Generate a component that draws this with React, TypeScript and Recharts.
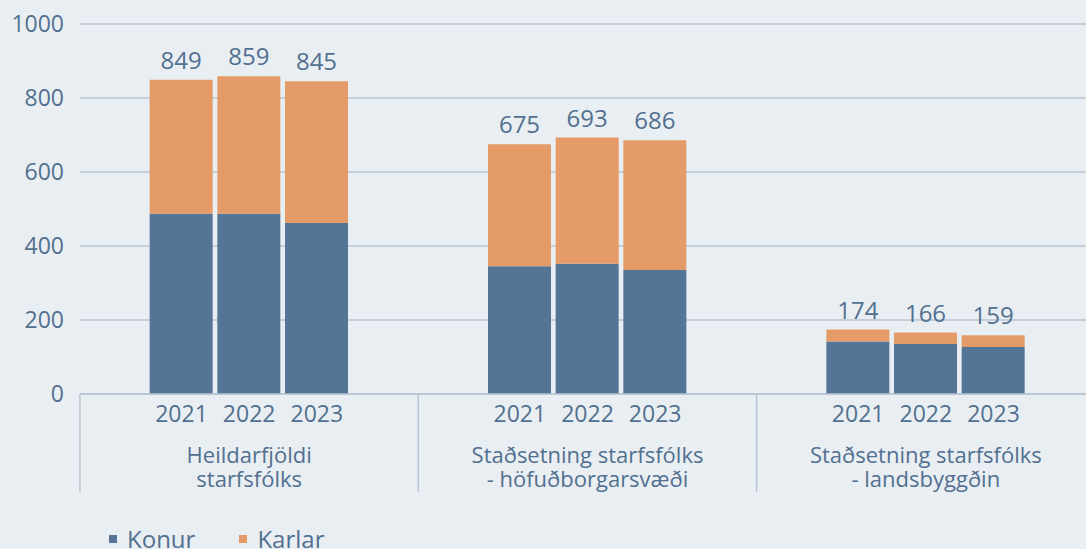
import { BarChart, Bar, XAxis, YAxis, CartesianGrid, LabelList } from 'recharts';

const groupLabels = [
  ['Heildarfjöldi', 'starfsfólks'],
  ['Staðsetning starfsfólks', '- höfuðborgarsvæði'],
  ['Staðsetning starfsfólks', '- landsbyggðin'],
];
const years = ['2021', '2022', '2023'];
const konur = [
  [487, 487, 462],
  [345, 352, 335],
  [142, 135, 127],
];
const karlar = [
  [362, 372, 383],
  [330, 341, 351],
  [32, 31, 32],
];
const totals = [
  [849, 859, 845],
  [675, 693, 686],
  [174, 166, 159],
];
const yTicks = [0, 200, 400, 600, 800, 1000];

const BLUE = '#557596';
const ORANGE = '#e59b67';
const TEXT = '#52708f';
const GRID = '#b7c4d3';
const BG = '#e9eef3';
const FONT = '"Open Sans", "Noto Sans", sans-serif';

// 5 slots per group: empty, 3 years, empty
type Row = { key: string; group: number; pos: number; year?: string; konur?: number; karlar?: number; total?: number };
const data: Row[] = [];
groupLabels.forEach((_, g) => {
  data.push({ key: `g${g}-a`, group: g, pos: 0 });
  years.forEach((y, i) => {
    data.push({ key: `g${g}-${y}`, group: g, pos: i + 1, year: y, konur: konur[g][i], karlar: karlar[g][i], total: totals[g][i] });
  });
  data.push({ key: `g${g}-b`, group: g, pos: 4 });
});

const SLOT = 1017 / 15;

function XTick(props: any) {
  const { x, y, payload } = props;
  const row = data[payload.index];
  if (!row) return null;
  return (
    <g>
      {row.pos === 0 && (
        <line x1={x - SLOT / 2} x2={x - SLOT / 2} y1={y} y2={y + 98} stroke={GRID} strokeWidth={1.5} />
      )}
      {row.year && (
        <text x={x} y={y + 28} textAnchor="middle" fill={TEXT} fontSize={23} fontWeight={500} fontFamily={FONT}>
          {row.year}
        </text>
      )}
      {row.pos === 2 &&
        groupLabels[row.group].map((line, i) => (
          <text key={i} x={x} y={y + 69 + i * 24} textAnchor="middle" fill={TEXT} fontSize={22} fontWeight={500} fontFamily={FONT}>
            {line}
          </text>
        ))}
    </g>
  );
}

export default function App() {
  return (
    <div style={{ position: 'absolute', left: 0, top: 0, width: 1086, height: 549, overflow: 'hidden', background: BG }}>
      <BarChart width={1096} height={549} data={data} margin={{ top: 24, right: 1, left: 0, bottom: 0 }}>
        <CartesianGrid vertical={false} stroke={GRID} strokeWidth={1.5} />
        <XAxis
          dataKey="key"
          height={155}
          interval={0}
          tickLine={false}
          tickSize={0}
          tickMargin={0}
          axisLine={{ stroke: GRID, strokeWidth: 1.5 }}
          tick={<XTick />}
        />
        <YAxis
          width={80}
          domain={[0, 1000]}
          ticks={yTicks}
          axisLine={false}
          tickLine={false}
          tickSize={0}
          tickMargin={16}
          tick={{ fill: TEXT, fontSize: 23, fontWeight: 500, fontFamily: FONT }}
        />
        <Bar dataKey="konur" stackId="a" fill={BLUE} barSize={63} isAnimationActive={false} />
        <Bar dataKey="karlar" stackId="a" fill={ORANGE} barSize={63} isAnimationActive={false}>
          <LabelList dataKey="total" position="top" offset={11} fill={TEXT} fontSize={24} fontWeight={500} fontFamily={FONT} />
        </Bar>
      </BarChart>
      <div style={{ position: 'absolute', left: 109, top: 522, display: 'flex', alignItems: 'center', fontFamily: FONT, fontSize: 24, fontWeight: 500, color: TEXT }}>
        <span style={{ display: 'inline-block', width: 8, height: 8, background: BLUE, marginRight: 10 }} />
        <span style={{ marginRight: 44 }}>Konur</span>
        <span style={{ display: 'inline-block', width: 8, height: 8, background: ORANGE, marginRight: 10 }} />
        <span>Karlar</span>
      </div>
    </div>
  );
}
